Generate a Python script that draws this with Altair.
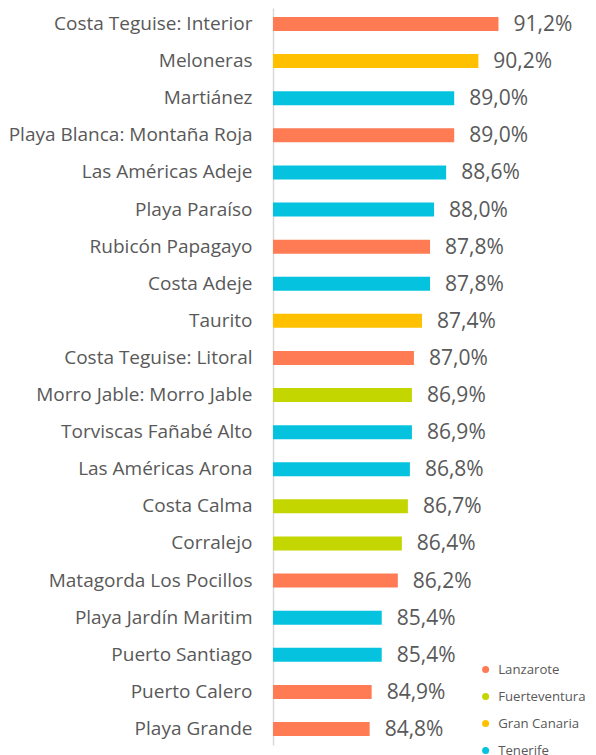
import altair as alt
import pandas as pd

categories = [
    "Costa Teguise: Interior", "Meloneras", "Martiánez", "Playa Blanca: Montaña Roja",
    "Las Américas Adeje", "Playa Paraíso", "Rubicón Papagayo", "Costa Adeje", "Taurito",
    "Costa Teguise: Litoral", "Morro Jable: Morro Jable", "Torviscas Fañabé Alto",
    "Las Américas Arona", "Costa Calma", "Corralejo", "Matagorda Los Pocillos",
    "Playa Jardín Maritim", "Puerto Santiago", "Puerto Calero", "Playa Grande",
]
values = [91.2, 90.2, 89.0, 89.0, 88.6, 88.0, 87.8, 87.8, 87.4, 87.0,
          86.9, 86.9, 86.8, 86.7, 86.4, 86.2, 85.4, 85.4, 84.9, 84.8]
islands = ["Lanzarote", "Gran Canaria", "Tenerife", "Lanzarote", "Tenerife", "Tenerife",
           "Lanzarote", "Tenerife", "Gran Canaria", "Lanzarote", "Fuerteventura", "Tenerife",
           "Tenerife", "Fuerteventura", "Fuerteventura", "Lanzarote", "Tenerife", "Tenerife",
           "Lanzarote", "Lanzarote"]
island_order = ["Lanzarote", "Fuerteventura", "Gran Canaria", "Tenerife"]
island_colors = ["#FF7B54", "#C4D600", "#FFC000", "#05C3DE"]

df = pd.DataFrame({
    "zona": categories,
    "valor": values,
    "isla": islands,
    "etiqueta": [f"{v:.1f}%".replace(".", ",") for v in values],
})

FONT = "Open Sans"
GREY = "#595959"

y = alt.Y("zona:N", sort=categories, title=None,
          scale=alt.Scale(paddingInner=0.623, paddingOuter=0.243),
          axis=alt.Axis(domainColor="#D9D9D9", domainWidth=1.5, ticks=False,
                        labelFontSize=19, labelColor=GREY, labelFont=FONT,
                        labelPadding=21, labelLimit=400))
x = alt.X("valor:Q", title=None, axis=None,
          scale=alt.Scale(domain=[80, 95], zero=False, nice=False))

bars = alt.Chart(df).mark_bar().encode(
    y=y, x=x, x2=alt.datum(80),
    color=alt.Color("isla:N", scale=alt.Scale(domain=island_order, range=island_colors),
                    legend=alt.Legend(title=None, orient="none", legendX=206, legendY=655,
                                      symbolType="circle", symbolSize=49, symbolStrokeWidth=0,
                                      labelFontSize=13.2, labelColor=GREY, labelFont=FONT,
                                      labelOffset=6, rowPadding=13, padding=0)),
)

labels = alt.Chart(df).mark_text(align="left", baseline="middle", dx=15, dy=1,
                                 fontSize=21, font=FONT, color=GREY).encode(
    y=alt.Y("zona:N", sort=categories), x=x, text="etiqueta:N")

chart = alt.layer(bars, labels).properties(
    width=302, height=737,
    padding={"left": 0, "top": 0, "right": 0, "bottom": 0},
).configure_view(stroke=None)

chart.save("out.html", embed_options={"renderer": "svg", "actions": False})
